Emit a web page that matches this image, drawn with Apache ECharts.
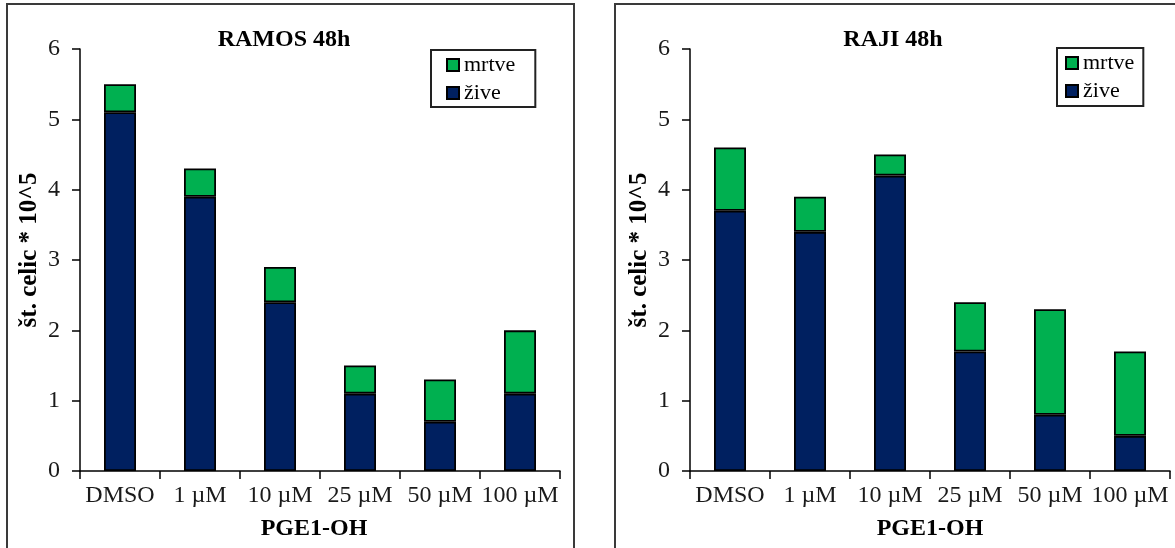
<!DOCTYPE html>
<html>
<head>
<meta charset="utf-8">
<script src="https://cdn.jsdelivr.net/npm/echarts@6/dist/echarts.min.js"></script>
<style>
html,body{margin:0;padding:0;background:#fff;}
#chart{width:1175px;height:548px;}
</style>
</head>
<body>
<div id="chart"></div>
<script>
const categories = ['DMSO', '1 µM', '10 µM', '25 µM', '50 µM', '100 µM'];
const ramosZive  = [5.1, 3.9, 2.4, 1.1, 0.7, 1.1];
const ramosMrtve = [0.4, 0.4, 0.5, 0.4, 0.6, 0.9];
const rajiZive   = [3.7, 3.4, 4.2, 1.7, 0.8, 0.5];
const rajiMrtve  = [0.9, 0.5, 0.3, 0.7, 1.5, 1.2];
const titles = ['RAMOS 48h', 'RAJI 48h'];
const xName = 'PGE1-OH';
const yName = 'št. celic * 10^5';
const legendNames = ['mrtve', 'žive'];

const FONT = '"Liberation Serif", "Times New Roman", serif';
const NAVY = '#002060';
const GREEN = '#00B050';

const chart = echarts.init(document.getElementById('chart'), null, {renderer: 'canvas'});

function xAxisCfg(gi) {
  return {
    type: 'category', gridIndex: gi, data: categories,
    axisLine: {lineStyle: {color: '#000', width: 1.5}},
    axisTick: {show: true, length: 8, lineStyle: {color: '#000', width: 1.5}},
    axisLabel: {interval: 0, margin: 13, color: '#1a1a1a', fontFamily: FONT, fontSize: 24, hideOverlap: false},
    name: xName, nameLocation: 'middle', nameGap: 46,
    nameTextStyle: {fontFamily: FONT, fontSize: 24, fontWeight: 'bold', color: '#000', padding: gi === 0 ? [0, 12, 0, 0] : 0}
  };
}
function yAxisCfg(gi) {
  return {
    type: 'value', gridIndex: gi, min: 0, max: 6, interval: 1,
    splitLine: {show: false},
    axisLine: {show: true, lineStyle: {color: '#000', width: 1.5}},
    axisTick: {show: true, length: 8, lineStyle: {color: '#000', width: 1.5}},
    axisLabel: {margin: 20, color: '#1a1a1a', fontFamily: FONT, fontSize: 24},
    name: yName, nameLocation: 'middle', nameGap: 38, nameRotate: 90,
    nameTextStyle: {fontFamily: FONT, fontSize: 25, fontWeight: 'bold', color: '#000', padding: [0, 0, 0, 20]}
  };
}
function barSeries(name, gi, data, color, stack) {
  return {
    type: 'bar', name: name, xAxisIndex: gi, yAxisIndex: gi, stack: stack,
    data: data, barWidth: '40%',
    itemStyle: {color: color, borderColor: '#000', borderWidth: 1.8},
    emphasis: {disabled: true}
  };
}
function legendCfg(left, top, padding) {
  return {
    orient: 'vertical', left: left, top: top, padding: padding,
    itemGap: 4, itemWidth: 12, itemHeight: 12, icon: 'rect',
    borderColor: '#222', borderWidth: 2, selectedMode: false,
    textStyle: {fontFamily: FONT, fontSize: 22, color: '#000', lineHeight: 24},
    data: legendNames
  };
}

const option = {
  animation: false,
  backgroundColor: '#fff',
  title: [
    {text: titles[0], left: 284, top: 28, textAlign: 'center', padding: 0,
     textStyle: {fontFamily: FONT, fontSize: 24, fontWeight: 'bold', color: '#000'}},
    {text: titles[1], left: 893, top: 28, textAlign: 'center', padding: 0,
     textStyle: {fontFamily: FONT, fontSize: 24, fontWeight: 'bold', color: '#000'}}
  ],
  legend: [
    legendCfg(431, 50, [3, 20, 2, 15]),
    legendCfg(1057, 48, [3, 9, 3, 8])
  ],
  grid: [
    {left: 80, top: 49, width: 480, height: 422, outerBoundsMode: 'none'},
    {left: 690, top: 49, width: 480, height: 422, outerBoundsMode: 'none'}
  ],
  xAxis: [xAxisCfg(0), xAxisCfg(1)],
  yAxis: [yAxisCfg(0), yAxisCfg(1)],
  series: [
    barSeries('žive', 0, ramosZive, NAVY, 'ramos'),
    barSeries('mrtve', 0, ramosMrtve, GREEN, 'ramos'),
    barSeries('žive', 1, rajiZive, NAVY, 'raji'),
    barSeries('mrtve', 1, rajiMrtve, GREEN, 'raji')
  ],
  graphic: [
    {type: 'rect', z: -1, silent: true, shape: {x: 7, y: 4, width: 567, height: 600},
     style: {fill: 'none', stroke: '#3a3a3a', lineWidth: 2}},
    {type: 'rect', z: -1, silent: true, shape: {x: 615, y: 4, width: 600, height: 600},
     style: {fill: 'none', stroke: '#3a3a3a', lineWidth: 2}}
  ]
};
chart.setOption(option);
</script>
</body>
</html>
